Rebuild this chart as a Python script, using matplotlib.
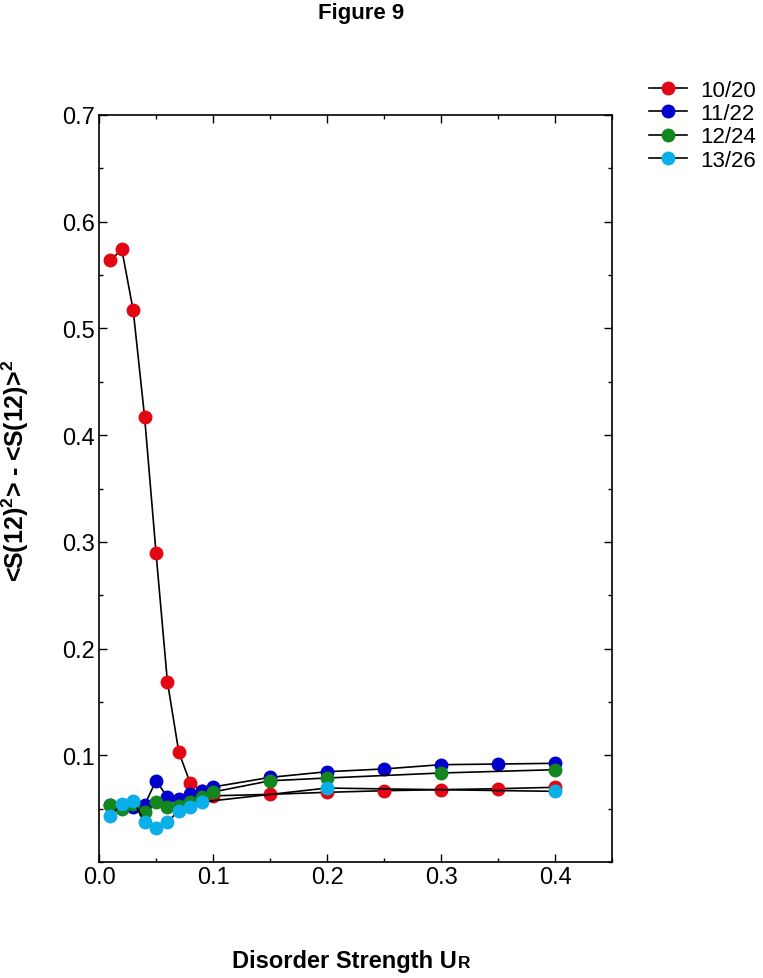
import matplotlib
matplotlib.use("Agg")
import matplotlib.pyplot as plt
from matplotlib.ticker import MultipleLocator

plt.rcParams['font.family'] = ['Liberation Sans', 'DejaVu Sans']
plt.rcParams['mathtext.fontset'] = 'custom'
plt.rcParams['mathtext.rm'] = 'Liberation Sans'
plt.rcParams['mathtext.bf'] = 'Liberation Sans:bold'

# data
x_red = [0.01, 0.02, 0.03, 0.04, 0.05, 0.06, 0.07, 0.08, 0.09, 0.10,
         0.15, 0.20, 0.25, 0.30, 0.35, 0.40]
y_red = [0.564, 0.574, 0.517, 0.417, 0.290, 0.169, 0.103, 0.074, 0.067, 0.062,
         0.0634, 0.0653, 0.0668, 0.0678, 0.0687, 0.070]

x_blue = [0.01, 0.02, 0.03, 0.04, 0.05, 0.06, 0.07, 0.08, 0.09, 0.10,
          0.15, 0.20, 0.25, 0.30, 0.35, 0.40]
y_blue = [0.053, 0.052, 0.0515, 0.0534, 0.0762, 0.0609, 0.059, 0.0637, 0.0667, 0.0703,
          0.0793, 0.0846, 0.0872, 0.0912, 0.0918, 0.0925]

x_green = [0.01, 0.02, 0.03, 0.04, 0.05, 0.06, 0.07, 0.08, 0.09, 0.10,
           0.15, 0.20, 0.30, 0.40]
y_green = [0.0534, 0.0497, 0.054, 0.0468, 0.0562, 0.0515, 0.0527, 0.0562, 0.0609, 0.0656,
           0.0761, 0.0787, 0.0834, 0.0865]

x_cyan = [0.01, 0.02, 0.03, 0.04, 0.05, 0.06, 0.07, 0.08, 0.09, 0.20, 0.40]
y_cyan = [0.0434, 0.0544, 0.0575, 0.0375, 0.0318, 0.0375, 0.048, 0.0515, 0.0562,
          0.0693, 0.0662]

series = [
    ("10/20", x_red, y_red, "#e30613"),
    ("11/22", x_blue, y_blue, "#0000cc"),
    ("12/24", x_green, y_green, "#14861e"),
    ("13/26", x_cyan, y_cyan, "#0aaee8"),
]

fig = plt.figure(figsize=(7.63, 9.79), dpi=100)
ax = fig.add_axes([99 / 763, 1 - 863 / 979, (612 - 99) / 763, (863 - 116) / 979])

for label, xs, ys, col in series:
    ax.plot(xs, ys, color="black", lw=1.2, marker="o", ms=9,
            mfc=col, mec=col, label=label)

ax.set_xlim(0, 0.45)
ax.set_ylim(0, 0.7)
ax.xaxis.set_minor_locator(MultipleLocator(0.05))
ax.yaxis.set_minor_locator(MultipleLocator(0.05))
ax.set_xticks([0.0, 0.1, 0.2, 0.3, 0.4])
ax.set_xticklabels(["0.0", "0.1", "0.2", "0.3", "0.4"])
ax.set_yticks([0.1, 0.2, 0.3, 0.4, 0.5, 0.6, 0.7])
ax.set_yticklabels(["0.1", "0.2", "0.3", "0.4", "0.5", "0.6", "0.7"])
ax.tick_params(which="both", direction="in", top=True, right=True,
               labelsize=17, pad=3)
ax.tick_params(which="major", length=6, width=1)
ax.tick_params(which="minor", length=3, width=1)
for sp in ax.spines.values():
    sp.set_linewidth(1.2)

fig.text(361 / 763, 1 - 14 / 979, "Figure 9", ha="center", va="center",
         fontsize=16, fontweight="bold")
fig.text(457 / 763, 1 - 968 / 979, "Disorder Strength U", ha="right",
         va="baseline", fontsize=17, fontweight="bold")
fig.text(458 / 763, 1 - 968 / 979, "R", ha="left", va="baseline",
         fontsize=12.5, fontweight="bold")
fig.text(15 / 763, 1 - 471 / 979,
         r"<S(12)$^\mathbf{2}$> - <S(12)>$^\mathbf{2}$",
         rotation=90, ha="center", va="center", fontsize=18, fontweight="bold")

fig.legend(loc="upper left", bbox_to_anchor=(649 / 763, 1 - 81 / 979),
           frameon=False, fontsize=16, handlelength=1.7, labelspacing=0.1,
           handletextpad=0.6, borderaxespad=0, borderpad=0)

fig.savefig("out.png", dpi=100)
